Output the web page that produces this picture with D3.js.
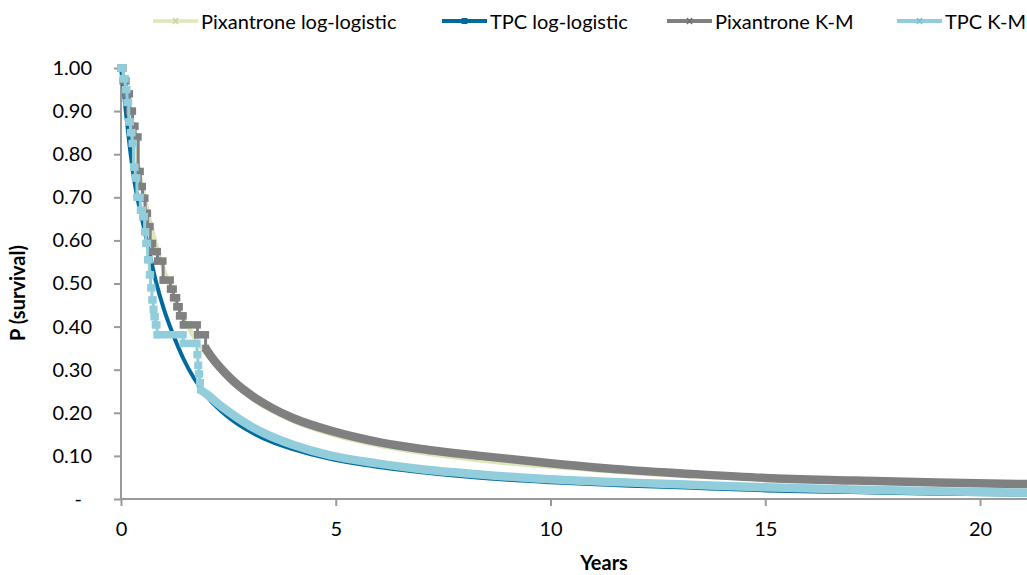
<!DOCTYPE html>
<html>
<head>
<meta charset="utf-8">
<script src="https://cdn.jsdelivr.net/npm/d3@7"></script>
<style>
  html, body { margin: 0; padding: 0; background: #ffffff; }
  svg { display: block; font-family: Lato, "Open Sans", "DejaVu Sans", sans-serif; }
</style>
</head>
<body>
<svg id="chart" width="1027" height="575"></svg>
<script>
// Pixantrone log-logistic fitted survival
const pixLLTime = [0, 0.1, 0.2, 0.3, 0.4, 0.5, 0.6, 0.8, 1.0, 1.25, 1.5, 1.75, 2.0, 2.5, 3.0, 3.5, 4.0, 5.0, 6.0, 7.0, 8.0, 9.0, 10, 12, 14, 16, 18, 20, 21.5];
const pixLLSurv = [1.0, 0.946, 0.885, 0.826, 0.771, 0.721, 0.675, 0.596, 0.531, 0.465, 0.411, 0.368, 0.335, 0.278, 0.236, 0.205, 0.181, 0.147, 0.124, 0.107, 0.094, 0.083, 0.075, 0.060, 0.050, 0.043, 0.037, 0.032, 0.029];

// TPC log-logistic fitted survival
const tpcLLTime = [0, 0.05, 0.1, 0.2, 0.3, 0.4, 0.5, 0.675, 0.8, 1.0, 1.2, 1.45, 1.7, 2.0, 2.5, 3.0, 3.5, 4.0, 4.87, 6.0, 7.0, 8.36, 10, 11.85, 13, 15, 17, 19, 21.5];
const tpcLLSurv = [1.0, 0.96, 0.91, 0.82, 0.745, 0.69, 0.645, 0.565, 0.51, 0.44, 0.385, 0.326, 0.28, 0.238, 0.19, 0.157, 0.133, 0.116, 0.093, 0.074, 0.062, 0.049, 0.039, 0.031, 0.027, 0.020, 0.016, 0.012, 0.010];

// Pixantrone Kaplan-Meier steps (observed period)
const pixKMTime = [0, 0.05, 0.12, 0.2, 0.27, 0.33, 0.4, 0.45, 0.5, 0.56, 0.62, 0.68, 0.74, 0.85, 0.98, 1.15, 1.22, 1.3, 1.36, 1.45, 1.78, 1.97];
const pixKMSurv = [1.0, 0.97, 0.94, 0.9, 0.865, 0.84, 0.76, 0.725, 0.698, 0.663, 0.632, 0.593, 0.574, 0.552, 0.508, 0.487, 0.467, 0.446, 0.425, 0.404, 0.381, 0.35];
// Pixantrone K-M continued beyond follow-up
const pixKMTailTime = [1.97, 2.0, 2.5, 3.0, 3.5, 4.0, 4.9, 6.0, 7.0, 8.36, 10, 11.85, 13, 15, 17, 19, 21.5];
const pixKMTailSurv = [0.35, 0.345, 0.285, 0.243, 0.212, 0.188, 0.158, 0.132, 0.116, 0.100, 0.083, 0.067, 0.060, 0.049, 0.043, 0.038, 0.034];

// TPC Kaplan-Meier steps (observed period)
const tpcKMTime = [0, 0.05, 0.1, 0.14, 0.18, 0.22, 0.26, 0.29, 0.33, 0.37, 0.45, 0.5, 0.55, 0.58, 0.62, 0.66, 0.69, 0.72, 0.75, 0.77, 0.8, 0.84, 1.45, 1.77, 1.79, 1.81, 1.83, 1.85];
const tpcKMSurv = [1.0, 0.975, 0.95, 0.92, 0.875, 0.85, 0.825, 0.77, 0.745, 0.70, 0.67, 0.655, 0.62, 0.593, 0.555, 0.52, 0.49, 0.462, 0.44, 0.423, 0.404, 0.381, 0.361, 0.335, 0.31, 0.29, 0.27, 0.253];
// TPC K-M continued beyond follow-up
const tpcKMTailTime = [1.85, 2.0, 2.25, 2.5, 3.0, 3.5, 4.0, 4.87, 6.0, 7.0, 8.36, 10, 11.85, 13, 15, 17, 19, 21.5];
const tpcKMTailSurv = [0.253, 0.243, 0.222, 0.203, 0.17, 0.145, 0.126, 0.101, 0.082, 0.069, 0.057, 0.046, 0.038, 0.034, 0.027, 0.022, 0.018, 0.014];

const xTicks = [0, 5, 10, 15, 20];
const yTicks = [0, 0.1, 0.2, 0.3, 0.4, 0.5, 0.6, 0.7, 0.8, 0.9, 1.0];

const seriesNames = ["Pixantrone log-logistic", "TPC log-logistic", "Pixantrone K-M", "TPC K-M"];
const seriesColors = ["#dde7b8", "#006a9e", "#808080", "#92cddc"];

const svg = d3.select("#chart");
const W = 1027, H = 575;
const axisColor = "#9a9a9a";
const fontSize = "20px";

const x = d3.scaleLinear().domain([0, 20]).range([121, 980]);
const y = d3.scaleLinear().domain([0, 1]).range([499, 68]);

svg.append("defs").append("clipPath").attr("id", "plotClip")
  .append("rect").attr("x", 110).attr("y", 55).attr("width", W - 110).attr("height", 450);

// Axes
const xAxis = svg.append("g")
  .attr("transform", `translate(0,${y(0)})`)
  .call(d3.axisBottom(x).tickValues(xTicks).tickSize(7).tickPadding(16).tickFormat(d3.format("d")));
xAxis.select(".domain").attr("d", `M${x(0)},0H${W}`);

const yAxis = svg.append("g")
  .attr("transform", `translate(${x(0)},0)`)
  .call(d3.axisLeft(y).tickValues(yTicks).tickSize(7).tickPadding(22)
    .tickFormat(d => d === 0 ? "-" : d3.format(".2f")(d)));
yAxis.select(".domain").attr("d", `M0,${y(1)}V${y(0)}`);

[xAxis, yAxis].forEach(g => {
  g.select(".domain").attr("stroke", axisColor).attr("stroke-width", 2);
  g.selectAll(".tick line").attr("stroke", axisColor).attr("stroke-width", 2);
  g.selectAll(".tick text").attr("fill", "#000").style("font-size", fontSize)
    .style("font-family", "Lato, 'Open Sans', sans-serif");
});
yAxis.selectAll(".tick text").filter(d => d === 0).attr("dx", "-10");

// Axis titles
svg.append("text")
  .attr("x", 604).attr("y", 570)
  .attr("text-anchor", "middle")
  .style("font-size", fontSize).style("font-weight", "bold")
  .text("Years");

svg.append("text")
  .attr("transform", `translate(25,293) rotate(-90)`)
  .attr("text-anchor", "middle")
  .style("font-size", fontSize).style("font-weight", "bold")
  .text("P (survival)");

const plot = svg.append("g").attr("clip-path", "url(#plotClip)");

const toPts = (ts, ss) => ts.map((t, i) => [t, ss[i]]);
const smoothLine = d3.line().x(d => x(d[0])).y(d => y(d[1])).curve(d3.curveMonotoneX);
const stepLine = d3.line().x(d => x(d[0])).y(d => y(d[1])).curve(d3.curveStepAfter);

// Fitted log-logistic curves
plot.append("path").datum(toPts(pixLLTime, pixLLSurv))
  .attr("d", smoothLine).attr("fill", "none")
  .attr("stroke", seriesColors[0]).attr("stroke-width", 4.5);

plot.append("path").datum(toPts(tpcLLTime, tpcLLSurv))
  .attr("d", smoothLine).attr("fill", "none")
  .attr("stroke", seriesColors[1]).attr("stroke-width", 4);

// Kaplan-Meier: step function with dense markers, then continued band
function drawKM(times, surv, tailT, tailS, color) {
  const pts = toPts(times, surv);
  const g = plot.append("g");
  g.append("path").datum(pts).attr("d", stepLine).attr("fill", "none")
    .attr("stroke", color).attr("stroke-width", 3);
  const segs = d3.pairs(pts);
  g.selectAll("line.h").data(segs).join("line").attr("class", "h")
    .attr("x1", d => x(d[0][0]) - 3.5).attr("x2", d => x(d[1][0]) + 3.5)
    .attr("y1", d => y(d[0][1])).attr("y2", d => y(d[0][1]))
    .attr("stroke", color).attr("stroke-width", 7.5);
  g.selectAll("rect.m").data(pts).join("rect").attr("class", "m")
    .attr("x", d => x(d[0]) - 3.5).attr("y", d => y(d[1]) - 3.5)
    .attr("width", 7).attr("height", 7).attr("fill", color);
  g.append("path").datum(toPts(tailT, tailS)).attr("d", smoothLine)
    .attr("fill", "none").attr("stroke", color).attr("stroke-width", 8.5);
}
drawKM(pixKMTime, pixKMSurv, pixKMTailTime, pixKMTailSurv, seriesColors[2]);
drawKM(tpcKMTime, tpcKMSurv, tpcKMTailTime, tpcKMTailSurv, seriesColors[3]);

// Legend
const legendX = [153, 442, 667, 897];
const legend = svg.append("g");
seriesNames.forEach((name, i) => {
  const g = legend.append("g").attr("transform", `translate(${legendX[i]},21)`);
  g.append("line").attr("x1", 0).attr("x2", 45).attr("y1", 0).attr("y2", 0)
    .attr("stroke", seriesColors[i]).attr("stroke-width", i === 0 ? 3.5 : 4);
  if (i === 1) {
    g.append("rect").attr("x", 19.5).attr("y", -3).attr("width", 6).attr("height", 6).attr("fill", seriesColors[i]);
  } else {
    const c = i === 0 ? "#c9d6a0" : (i === 2 ? "#6e6e6e" : "#7cbdd0");
    g.append("path").attr("d", "M20,-3L25,3M25,-3L20,3").attr("stroke", c).attr("stroke-width", 1.5);
  }
  g.append("text").attr("x", 48).attr("y", 7.5)
    .style("font-size", fontSize).attr("fill", "#000").text(name);
});
</script>
</body>
</html>
